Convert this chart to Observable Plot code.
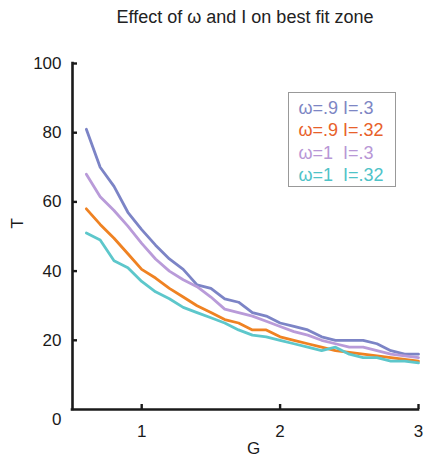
<!DOCTYPE html>
<html>
<head>
<meta charset="utf-8">
<script src="https://cdn.jsdelivr.net/npm/d3@7"></script>
<script src="https://cdn.jsdelivr.net/npm/@observablehq/plot@0.6"></script>
<style>
  html, body { margin: 0; padding: 0; background: #fff; }
  body { width: 425px; height: 463px; overflow: hidden; font-family: "Liberation Sans", Arial, Helvetica, sans-serif; }
  #wrap { position: relative; width: 425px; }
  #title { margin-left: 72px; width: 346px; height: 34px; line-height: 34px; text-align: center; font-size: 18px; color: #222; white-space: nowrap; }
  #legend { position: absolute; left: 288px; top: 92px; border: 1.5px solid #999; padding: 3.5px 0 0 9.5px; box-sizing: border-box; width: 108px; height: 95px; }
  #legend div { font-size: 18px; line-height: 22.5px; white-space: pre; }
</style>
</head>
<body>
<div id="wrap">
  <div id="title">Effect of ω and I on best fit zone</div>
  <div id="chart"></div>
  <div id="legend"></div>
</div>
<script>
// G values (x)
const G = [0.6, 0.7, 0.8, 0.9, 1.0, 1.1, 1.2, 1.3, 1.4, 1.5, 1.6, 1.7, 1.8, 1.9, 2.0, 2.1, 2.2, 2.3, 2.4, 2.5, 2.6, 2.7, 2.8, 2.9, 3.0];

// Series values (T)
const w09_l03  = [81, 70, 64.5, 57, 52, 47.5, 43.5, 40.5, 36, 35, 32, 31, 28, 27, 25, 24, 23, 21, 20, 20, 20, 19, 17, 16, 16];
const w09_l032 = [58, 53.5, 49.5, 45, 40.5, 38, 35, 32.5, 30, 28, 26, 25, 23, 23, 21, 20, 19, 18, 17, 16.5, 16, 15.5, 15, 14.5, 14];
const w1_l03   = [68, 61.5, 57.5, 53, 48, 43.5, 40, 37.5, 35.5, 32.5, 29, 28, 27, 25.5, 24, 22.5, 21.5, 20, 19, 18, 18, 17, 16, 15.5, 15];
const w1_l032  = [51, 49, 43, 41, 37, 34, 32, 29.5, 28, 26.5, 25, 23, 21.5, 21, 20, 19, 18, 17, 18, 16, 15, 15, 14, 14, 13.5];

const seriesNames = ["ω=.9 I=.3", "ω=.9 I=.32", "ω=1  I=.3", "ω=1  I=.32"];
const seriesValues = [w09_l03, w09_l032, w1_l03, w1_l032];
const lineColors = ["#7C84C6", "#EF8222", "#B99BD9", "#5DC7CB"];
const legendColors = ["#7D86C4", "#E8612A", "#B897D6", "#4FC3C8"];

const xTicks = [1, 2, 3];
const xTickLabels = ["1", "2", "3"];
const yTicks = [20, 40, 60, 80, 100];
const yZero = [0];

// draw order: blue, lavender, orange, cyan
const drawOrder = [0, 2, 1, 3];
const rows = [];
for (const s of drawOrder) {
  G.forEach((g, i) => rows.push({G: g, T: seriesValues[s][i], series: seriesNames[s]}));
}

const W = 425, H = 429, mL = 72, mR = 7, mT = 29, mB = 54;
const innerW = W - mL - mR, innerH = H - mT - mB;
const axisColor = "#1a1a1a";

const chart = Plot.plot({
  width: W,
  height: H,
  marginLeft: mL,
  marginRight: mR,
  marginTop: mT,
  marginBottom: mB,
  style: {fontFamily: "'Liberation Sans', Arial, Helvetica, sans-serif", fontSize: "17px", color: "#1a1a1a", background: "transparent", overflow: "visible"},
  x: {domain: [0.5, 3]},
  y: {domain: [0, 100]},
  color: {domain: seriesNames, range: lineColors},
  marks: [
    Plot.line(rows, {x: "G", y: "T", z: "series", stroke: "series", strokeWidth: 2.8, strokeLinejoin: "round"}),
    Plot.ruleX([0.5], {stroke: axisColor, strokeWidth: 2.6, strokeLinecap: "square"}),
    Plot.ruleY([0], {stroke: axisColor, strokeWidth: 2.6, strokeLinecap: "square"}),
    Plot.tickY(yTicks, {y: d => d, stroke: axisColor, strokeWidth: 2.4, insetRight: innerW - 5}),
    Plot.tickX(xTicks, {x: d => d, stroke: axisColor, strokeWidth: 2.4, insetTop: innerH - 5}),
    Plot.axisY({ticks: yTicks, tickSize: 0, tickPadding: 11, label: null, fontSize: 17, tickFormat: d => String(d)}),
    Plot.axisY({ticks: yZero, tickSize: 0, tickPadding: 11, label: null, fontSize: 17, dy: 10, tickFormat: d => String(d)}),
    Plot.axisX({ticks: xTicks, tickSize: 0, tickPadding: 15, label: null, fontSize: 17, tickFormat: (d, i) => xTickLabels[i]}),
    Plot.text(["G"], {frameAnchor: "bottom", dx: 8, dy: 44, fontSize: 17, fill: "#1a1a1a"}),
    Plot.text(["T"], {frameAnchor: "left", dx: -55, dy: -8, rotate: -90, fontSize: 17, fill: "#1a1a1a"})
  ]
});
document.getElementById("chart").appendChild(chart);

const legend = document.getElementById("legend");
seriesNames.forEach((name, i) => {
  const d = document.createElement("div");
  d.textContent = name;
  d.style.color = legendColors[i];
  legend.appendChild(d);
});
</script>
</body>
</html>
